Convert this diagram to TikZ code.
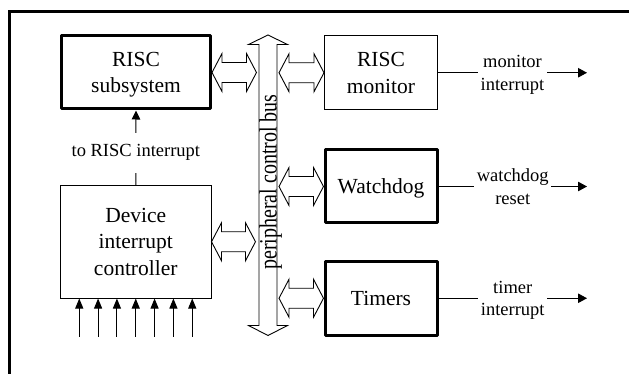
\documentclass[tikz,border=0pt]{standalone}
\usepackage{fontspec}
\setmainfont{Liberation Serif}
\usetikzlibrary{arrows.meta,calc}
\begin{document}
\begin{tikzpicture}[x=1pt,y=-1pt,
  box/.style={draw, inner sep=0pt, align=center, text depth=0pt, font=\fontsize{21.5}{26.5}\selectfont},
  thickbox/.style={box, line width=3pt, line join=round},
  thinbox/.style={box, line width=1pt},
  lab/.style={fill=white, align=center, inner xsep=2.5pt, inner ysep=0pt, text depth=0pt, font=\fontsize{18.5}{22.5}\selectfont},
  outarr/.style={line width=1pt, -{Triangle[length=9pt,width=9.5pt]}},
  inarr/.style={line width=1pt, -{Triangle[length=10pt,width=8pt]}},
  dbl/.style={line width=0.9pt, line join=miter, to path={let \p1=(\tikztostart), \p2=(\tikztotarget) in
     (\x1,\y1) -- (\x1+10pt,\y1+19pt) -- (\x1+10pt,\y1+10pt) -- (\x2-10pt,\y1+10pt) -- (\x2-10pt,\y1+19pt)
     -- (\x2,\y1) -- (\x2-10pt,\y1-19pt) -- (\x2-10pt,\y1-10pt) -- (\x1+10pt,\y1-10pt) -- (\x1+10pt,\y1-19pt) -- cycle}}
]
\useasboundingbox (0,0) rectangle (629,374);
% frame
\draw[line width=2.8pt] (9.7,374) -- (9.7,11.3) -- (629,11.3);

% boxes
\node[thickbox, minimum width=149pt, minimum height=73pt] (rs) at (136,72.5) {RISC\\subsystem};
\node[thinbox, minimum width=113pt, minimum height=74.5pt] (mon) at (381,72.75) {RISC\\monitor};
\node[thickbox, minimum width=112pt, minimum height=73pt] (wd) at (381,186.5) {Watchdog};
\node[thickbox, minimum width=112pt, minimum height=73.5pt] (tm) at (381,298.25) {Timers};
\node[thinbox, minimum width=150.5pt, minimum height=112.5pt] (dic) at (135.75,241.75) {Device\\interrupt\\controller};

% bus
\draw[line width=0.9pt, line join=miter] (259,44.5) -- (248.5,44.5) -- (268,35) -- (287.5,44.5) -- (277,44.5)
  -- (277,325.5) -- (287.5,325.5) -- (268,335.5) -- (248.5,325.5) -- (259,325.5) -- cycle;
\coordinate (busW) at (259,185);
\coordinate (busE) at (277,185);
\node[rotate=90, anchor=base, inner sep=0pt, font=\fontsize{25}{30}\selectfont] (bustext) at (276.5,182)
  {\scalebox{0.8}[1]{peripheral control bus}};

% double arrows to the bus
\coordinate (a1) at ($(busW |- rs.east)+(-2.5,0)$);
\coordinate (a2) at ($(busW |- dic.east)+(-3.5,0)$);
\coordinate (b1) at ($(busE |- mon.west)+(2,0)$);
\coordinate (b2) at ($(busE |- wd.west)+(2,0)$);
\coordinate (b3) at ($(busE |- tm.west)+(2,0)$);
\draw[dbl] (rs.east) to (a1);
\draw[dbl] (dic.east) to (a2);
\draw[dbl] (b1) to (mon.west);
\draw[dbl] (b2) to (wd.west);
\draw[dbl] (b3) to (tm.west);

% to RISC interrupt
\draw[line width=1pt, -{Triangle[length=9pt,width=8.5pt]}] (dic.north) -- (rs.south)
  node[pos=0.434, fill=white, inner xsep=2pt, inner ysep=12pt, font=\fontsize{18.5}{22.5}\selectfont] (tri) {to RISC interrupt};

% outputs
\coordinate (outx) at (587,0);
\draw[outarr] (mon.east) -- (mon.east -| outx) node[midway, lab] (l1) {monitor\\interrupt};
\draw[outarr] (wd.east) -- (wd.east -| outx) node[midway, lab] (l2) {watchdog\\reset};
\draw[outarr] (tm.east) -- (tm.east -| outx) node[midway, lab] (l3) {timer\\interrupt};

% inputs
\foreach \k in {-3,...,3} {
  \coordinate (in\k) at ($(dic.south)+(\k*18.83,38)$);
  \draw[inarr] (in\k) -- (in\k |- dic.south);
}
\end{tikzpicture}
\end{document}
